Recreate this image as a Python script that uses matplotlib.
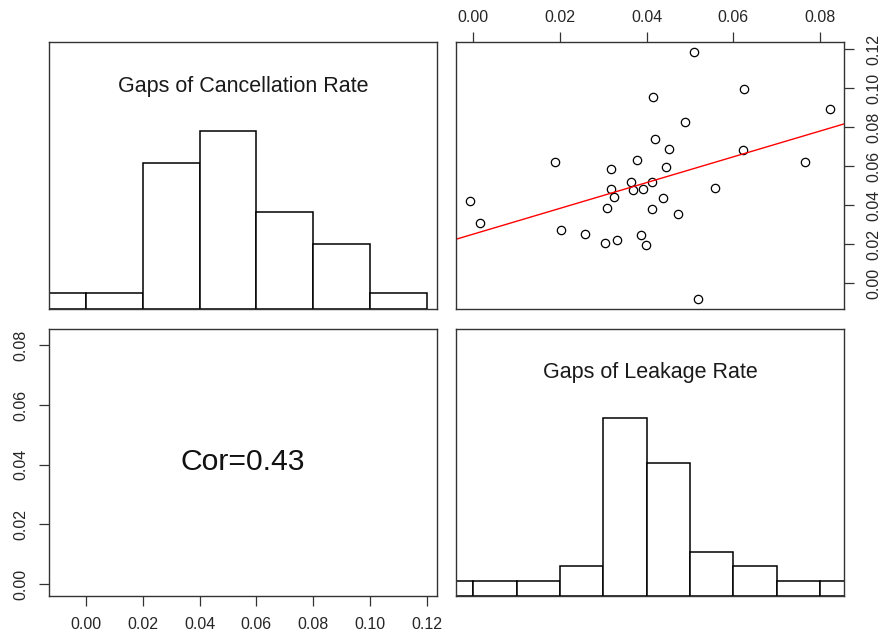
import numpy as np
import matplotlib
matplotlib.use("Agg")
import matplotlib.pyplot as plt

plt.rcParams['font.family'] = ['Liberation Sans', 'DejaVu Sans']

# gaps per observation (33 points)
leakage = [0.0509, 0.0625, 0.0415, 0.0822, 0.0488, 0.0420, 0.0452, 0.0621,
           0.0188, 0.0377, 0.0765, 0.0318, 0.0445, 0.0364, 0.0413, 0.0318,
           0.0369, 0.0391, 0.0557, 0.0325, 0.0438, -0.0007, 0.0308, 0.0413,
           0.0471, 0.0015, 0.0202, 0.0258, 0.0386, 0.0331, 0.0303, 0.0399,
           0.0518]
cancellation = [0.1186, 0.0995, 0.0957, 0.0892, 0.0827, 0.0738, 0.0691, 0.0684,
                0.0624, 0.0631, 0.0624, 0.0588, 0.0597, 0.0521, 0.0521, 0.0482,
                0.0479, 0.0485, 0.0487, 0.0443, 0.0438, 0.0422, 0.0388, 0.0383,
                0.0354, 0.0311, 0.0275, 0.0251, 0.0250, 0.0222, 0.0207, 0.0195,
                -0.0080]
cor_value = 0.43

cancel_ticks = [0.00, 0.02, 0.04, 0.06, 0.08, 0.10, 0.12]
leak_ticks = [0.00, 0.02, 0.04, 0.06, 0.08]
cancel_breaks = [-0.02, 0.00, 0.02, 0.04, 0.06, 0.08, 0.10, 0.12]
leak_breaks = [-0.01, 0.00, 0.01, 0.02, 0.03, 0.04, 0.05, 0.06, 0.07, 0.08, 0.09]

x = np.array(leakage)
y = np.array(cancellation)


def r_range(v):
    # same 4% padding as R's default axes
    lo, hi = v.min(), v.max()
    d = (hi - lo) * 0.04
    return lo - d, hi + d


xlim = r_range(x)
ylim = r_range(y)

W, H = 880, 635
fig = plt.figure(figsize=(W / 100, H / 100), dpi=100)


def panel(left, top, right, bottom):
    ax = fig.add_axes([left / W, 1 - bottom / H, (right - left) / W, (bottom - top) / H])
    for s in ax.spines.values():
        s.set_linewidth(1.0)
        s.set_color('#333333')
    ax.tick_params(length=7, width=0.9, color='#333333', labelsize=11.5,
                   labelcolor='#262626')
    return ax


def hist_panel(ax, data, breaks, lim, title, title_y):
    counts, edges = np.histogram(data, bins=breaks)
    h = counts / counts.max()
    ax.bar(edges[:-1], h, width=np.diff(edges), align='edge',
           facecolor='white', edgecolor='black', linewidth=1.1)
    ax.set_xlim(lim)
    ax.set_ylim(0, 1.5)
    ax.set_xticks([])
    ax.set_yticks([])
    ax.text(0.5, title_y, title, transform=ax.transAxes, ha='center', va='center',
            fontsize=15.5, color='#1a1a1a')


# top left: histogram of cancellation rate
ax1 = panel(49, 42, 437, 309)
hist_panel(ax1, y, cancel_breaks, ylim, "Gaps of Cancellation Rate", 0.833)

# top right: scatter with fitted line
ax2 = panel(456, 42, 844, 309)
ax2.plot(x, y, 'o', ms=6, mfc='none', mec='black', mew=0.9)
slope, intercept = np.polyfit(x, y, 1)
xs = np.array(xlim)
ax2.plot(xs, intercept + slope * xs, color='red', lw=1.0)
ax2.set_xlim(xlim)
ax2.set_ylim(ylim)
ax2.xaxis.tick_top()
ax2.yaxis.tick_right()
ax2.set_xticks(leak_ticks)
ax2.set_xticklabels([f"{t:.2f}" for t in leak_ticks])
ax2.set_yticks(cancel_ticks)
ax2.set_yticklabels([f"{t:.2f}" for t in cancel_ticks], rotation=90, va='center')
ax2.tick_params(axis='x', pad=5)
ax2.tick_params(axis='y', pad=9)

# bottom left: correlation
ax3 = panel(49, 329, 437, 596)
ax3.set_xlim(ylim)
ax3.set_ylim(xlim)
ax3.set_xticks(cancel_ticks)
ax3.set_xticklabels([f"{t:.2f}" for t in cancel_ticks])
ax3.set_yticks(leak_ticks)
ax3.set_yticklabels([f"{t:.2f}" for t in leak_ticks], rotation=90, va='center')
ax3.tick_params(axis='x', pad=8)
ax3.tick_params(axis='y', pad=8)
ax3.text(0.5, 0.5, f"Cor={cor_value:.2f}", transform=ax3.transAxes,
         ha='center', va='center', fontsize=21.7, color='#111111')

# bottom right: histogram of leakage rate
ax4 = panel(456, 329, 844, 596)
hist_panel(ax4, x, leak_breaks, xlim, "Gaps of Leakage Rate", 0.836)

fig.savefig("out.png", dpi=100, facecolor='white')
